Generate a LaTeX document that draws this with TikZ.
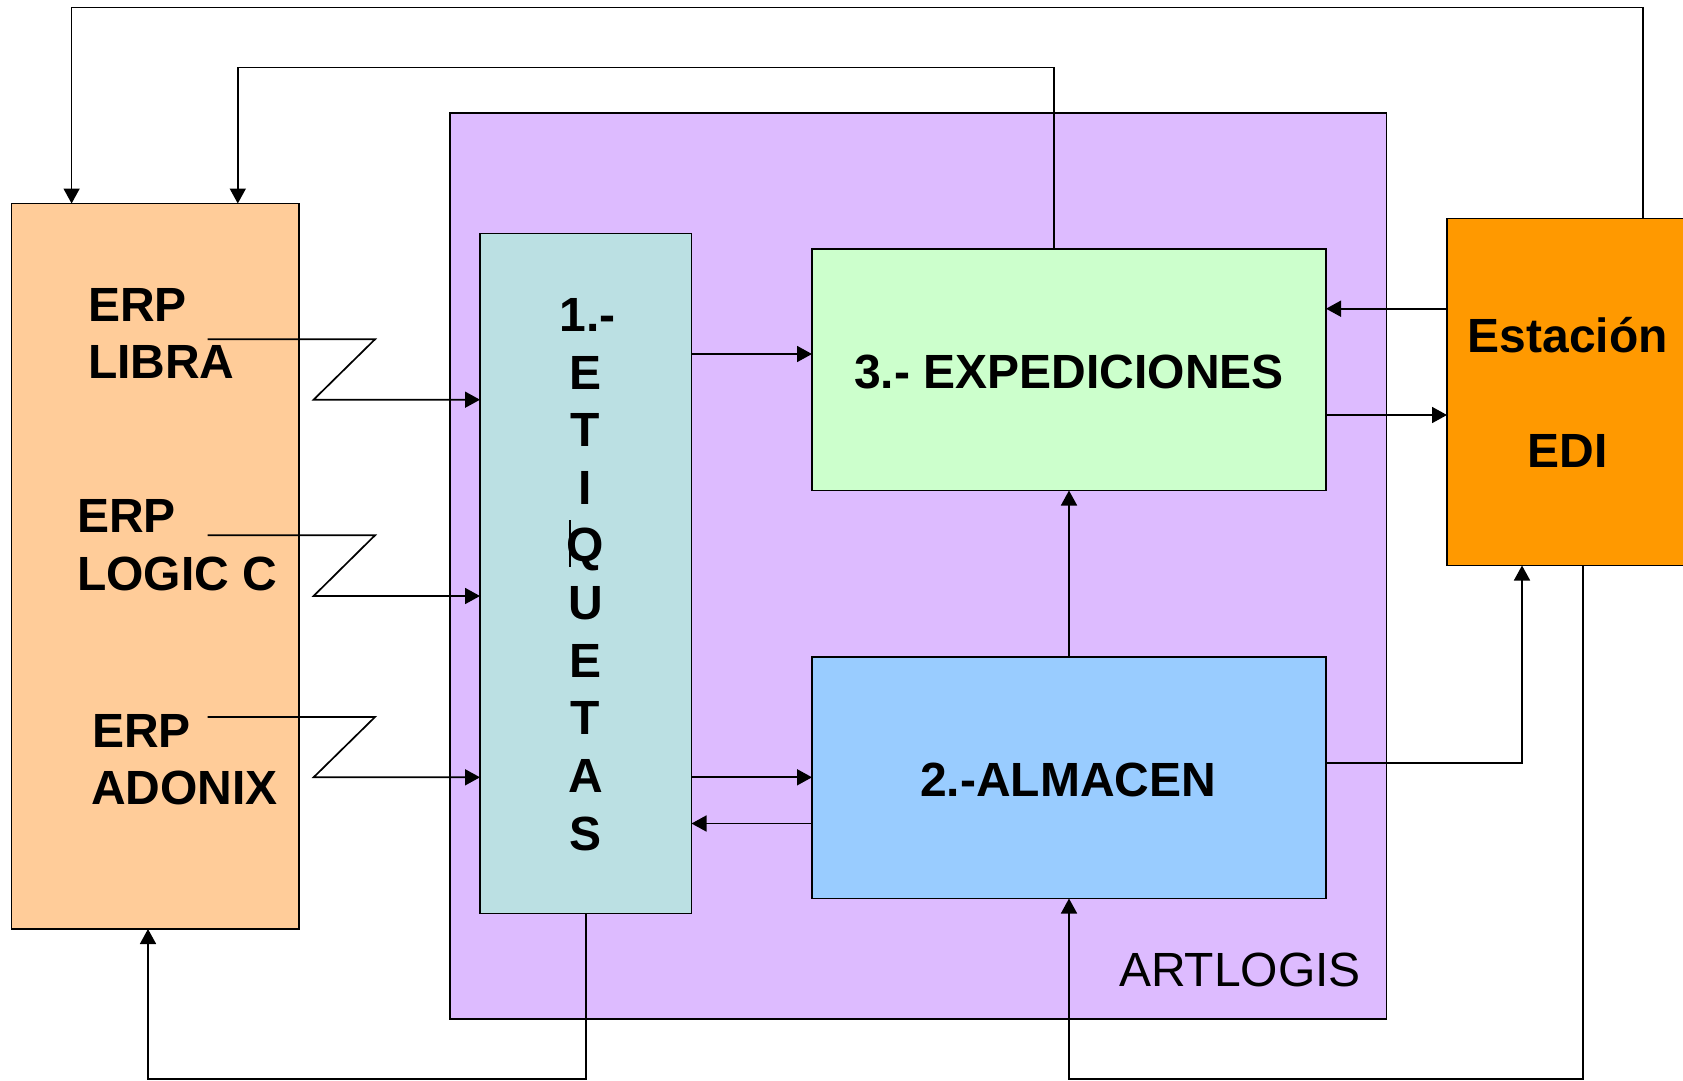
\documentclass[tikz,border=0pt]{standalone}
\usepackage{fontspec}
\setmainfont{Liberation Sans}
\usetikzlibrary{arrows.meta}
\definecolor{cErp}{HTML}{FFCC99}
\definecolor{cArt}{HTML}{DDBBFF}
\definecolor{cEti}{HTML}{BBE0E3}
\definecolor{cExp}{HTML}{CCFFCC}
\definecolor{cAlm}{HTML}{99CCFF}
\definecolor{cEdi}{HTML}{FF9900}
\tikzset{
  box/.style={draw=black,line width=1.8pt,anchor=north west,inner sep=0pt,outer sep=0pt},
  txt/.style={inner sep=0pt,outer sep=0pt,anchor=base west,font=\fontsize{48}{48}\selectfont\bfseries},
  ctxt/.style={txt,anchor=base},
  reg/.style={inner sep=0pt,outer sep=0pt,anchor=base west,font=\fontsize{48}{48}\selectfont},
  conn/.style={line width=1.7pt,-{Triangle[width=16pt,length=15pt]}},
  plain/.style={line width=1.7pt}
}
\begin{document}
\begin{tikzpicture}[x=1pt,y=-1pt]
\useasboundingbox (0,0) rectangle (1683,1080);
\fill[white] (0,0) rectangle (1683,1080);
% boxes
\node[box,fill=cArt,minimum width=936.5pt,minimum height=906pt] (art) at (450,113) {};
\node[box,fill=cErp,minimum width=287.5pt,minimum height=725.5pt] (erp) at (11.5,203.5) {};
\node[box,fill=cEti,minimum width=211.5pt,minimum height=680pt] (eti) at (480,233.5) {};
\node[box,fill=cExp,minimum width=514pt,minimum height=241.5pt] (exp) at (812,249) {};
\node[box,fill=cAlm,minimum width=514pt,minimum height=241.5pt] (alm) at (812,657) {};
\node[box,fill=cEdi,minimum width=280pt,minimum height=347pt] (edi) at (1447,218.5) {};
% texts
\node[txt] (t1a) at (88,321) {ERP};
\node[txt] (t1b) at (88,378) {LIBRA};
\node[txt] (t2a) at (77,532) {ERP};
\node[txt] (t2b) at (77,590) {LOGIC C};
\node[txt] (t3a) at (92,747) {ERP};
\node[txt] (t3b) at (91,804.5) {ADONIX};
\node[ctxt] (e0) at (587.5,331) {1.-};
\node[ctxt] (e1) at (585.5,389) {E};
\node[ctxt] (e2) at (585.5,446.5) {T};
\node[ctxt] (e3) at (585.5,504) {I};
\node[ctxt] (e4) at (585.5,561.5) {Q};
\node[ctxt] (e5) at (585.5,619.5) {U};
\node[ctxt] (e6) at (585.5,677) {E};
\node[ctxt] (e7) at (585.5,734.5) {T};
\node[ctxt] (e8) at (585.5,792.5) {A};
\node[ctxt] (e9) at (585.5,850.5) {S};
\node[ctxt] (tx) at (1069,388) {3.- EXPEDICIONES};
\node[ctxt] (ta) at (1068,796) {2.-ALMACEN};
\node[ctxt] (te1) at (1567.7,352.7) {Estación};
\node[ctxt] (te2) at (1567.7,467.3) {EDI};
\node[reg] (tl) at (1119,986) {ARTLOGIS};
% small stroke beside Q
\draw[line width=1.2pt] (570,520) -- (570,566.5);
% ERP links (lightning shape)
\draw[conn] (207.5,339.3) -- (375,339.3) -- (313.6,399.7) -- (eti.west |- 0,399.7);
\draw[conn] (207.5,535.3) -- (375,535.3) -- (313.6,596) -- (eti.west |- 0,596);
\draw[conn] (207.5,717) -- (375,717) -- (313.6,777.3) -- (eti.west |- 0,777.3);
% inner links
\draw[conn] (eti.east |- 0,354) -- (exp.west |- 0,354);
\draw[conn] (eti.east |- 0,777.3) -- (alm.west |- 0,777.3);
\draw[conn] (alm.west |- 0,823.5) -- (eti.east |- 0,823.5);
\draw[conn] (alm.north -| 1069,0) -- (exp.south -| 1069,0);
\draw[conn] (edi.west |- 0,308.7) -- (exp.east |- 0,308.7);
\draw[conn] (exp.east |- 0,415) -- (edi.west |- 0,415);
\draw[conn] (alm.east |- 0,763) -- (1522,763) -- (edi.south -| 1522,0);
% outer links
\draw[conn] (edi.north -| 1643,0) -- (1643,7.5) -- (71.6,7.5) -- (erp.north -| 71.6,0);
\draw[conn] (exp.north -| 1054,0) -- (1054,67.6) -- (237.8,67.6) -- (erp.north -| 237.8,0);
\draw[conn] (eti.south -| 586,0) -- (586,1079) -- (148,1079) -- (erp.south -| 148,0);
\draw[conn] (edi.south -| 1582.7,0) -- (1582.7,1079) -- (1069,1079) -- (alm.south -| 1069,0);
\end{tikzpicture}
\end{document}
